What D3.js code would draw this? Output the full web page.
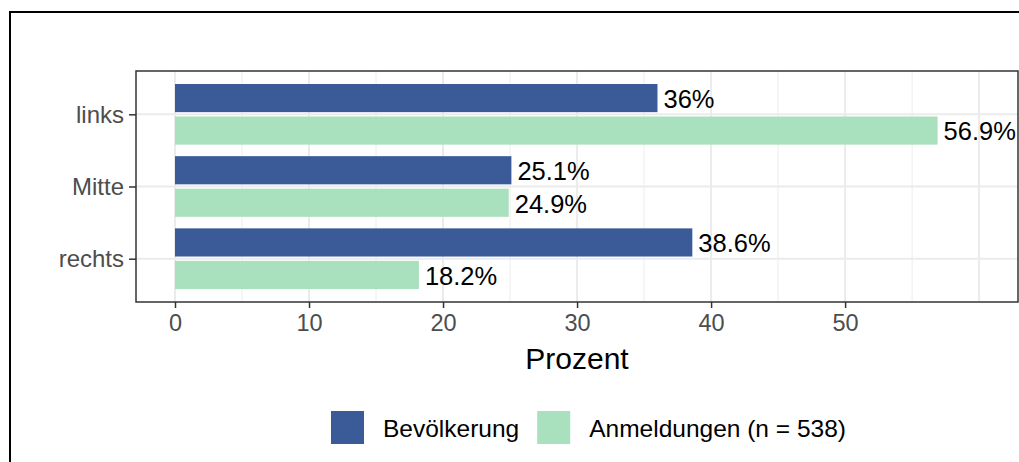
<!DOCTYPE html>
<html>
<head>
<meta charset="utf-8">
<script src="https://cdn.jsdelivr.net/npm/d3@7"></script>
<style>
  body { margin: 0; background: #fff; }
  svg { display: block; font-family: "Liberation Sans", Arial, sans-serif; }
</style>
</head>
<body>
<script>
// data
const categories = ["links", "Mitte", "rechts"];
const seriesNames = ["Bevölkerung", "Anmeldungen (n = 538)"];
const bevoelkerung = [36, 25.1, 38.6];
const anmeldungen = [56.9, 24.9, 18.2];
const xTicks = [0, 10, 20, 30, 40, 50];
const xGrid = [0, 10, 20, 30, 40, 50, 60];
const xMinorGrid = [5, 15, 25, 35, 45, 55];
const colors = ["#3A5B98", "#A9E0BD"];

let margin, width, height, svg, chart, x, y;

setupCanvasSize();
appendSvg("body");
setupXScale();
setupYScale();
appendGrid();
appendBars();
appendLabels();
appendPanelBorder();
appendXAxis();
appendYAxis();
appendLegend();

function setupCanvasSize() {
  margin = {top: 71, left: 136, bottom: 160, right: 1};
  width = 1019 - margin.left - margin.right;
  height = 462 - margin.top - margin.bottom;
}

function appendSvg(domElement) {
  svg = d3.select(domElement).append("svg")
    .attr("width", 1019)
    .attr("height", 462);
  // outer frame of the figure
  svg.append("rect")
    .attr("x", 10).attr("y", 12)
    .attr("width", 1030).attr("height", 470)
    .attr("fill", "none")
    .attr("stroke", "#000")
    .attr("stroke-width", 2);
  chart = svg.append("g")
    .attr("transform", `translate(${margin.left}, ${margin.top})`);
}

function setupXScale() {
  x = d3.scaleLinear()
    .domain([-2.91, 62.9])
    .range([0, width]);
}

function setupYScale() {
  y = d3.scalePoint()
    .domain(categories)
    .range([0, height])
    .padding(0.6);
}

function appendGrid() {
  chart.selectAll(".minor")
    .data(xMinorGrid)
    .enter().append("line")
    .attr("x1", d => x(d)).attr("x2", d => x(d))
    .attr("y1", 0).attr("y2", height)
    .attr("stroke", "#F0F0F0").attr("stroke-width", 1.2);
  chart.selectAll(".major")
    .data(xGrid)
    .enter().append("line")
    .attr("x1", d => x(d)).attr("x2", d => x(d))
    .attr("y1", 0).attr("y2", height)
    .attr("stroke", "#EBEBEB").attr("stroke-width", 2);
  chart.selectAll(".hgrid")
    .data(categories)
    .enter().append("line")
    .attr("x1", 0).attr("x2", width)
    .attr("y1", d => y(d)).attr("y2", d => y(d))
    .attr("stroke", "#EBEBEB").attr("stroke-width", 2);
}

function barRows() {
  const step = y.step();
  const rows = [];
  categories.forEach((c, i) => {
    rows.push({cat: c, value: bevoelkerung[i], s: 0, yc: y(c) - 0.225 * step});
    rows.push({cat: c, value: anmeldungen[i], s: 1, yc: y(c) + 0.225 * step});
  });
  return rows;
}

function appendBars() {
  const h = y.step() * 0.39;
  chart.selectAll(".bar")
    .data(barRows())
    .enter().append("rect")
    .attr("x", x(0))
    .attr("y", d => d.yc - h / 2)
    .attr("width", d => x(d.value) - x(0))
    .attr("height", h)
    .attr("fill", d => colors[d.s]);
}

function appendLabels() {
  chart.selectAll(".lbl")
    .data(barRows())
    .enter().append("text")
    .attr("x", d => x(d.value) + 6)
    .attr("y", d => d.yc + 1)
    .attr("dy", "0.35em")
    .attr("font-size", 25.5)
    .attr("fill", "#000")
    .text(d => d.value + "%");
}

function appendPanelBorder() {
  chart.append("rect")
    .attr("x", 0).attr("y", 0)
    .attr("width", width).attr("height", height)
    .attr("fill", "none")
    .attr("stroke", "#333")
    .attr("stroke-width", 1.5);
}

function appendXAxis() {
  const ax = chart.append("g")
    .attr("transform", `translate(0, ${height})`)
    .call(d3.axisBottom(x).tickValues(xTicks).tickSize(6).tickPadding(6).tickFormat(d3.format("d")));
  ax.select(".domain").remove();
  ax.selectAll("line").attr("stroke", "#333").attr("stroke-width", 1.5);
  ax.selectAll("text").attr("font-size", 23.5).attr("fill", "#4D4D4D")
    .attr("font-family", "Liberation Sans, Arial, sans-serif");
  // axis title
  chart.append("text")
    .attr("x", width / 2)
    .attr("y", height + 67)
    .attr("text-anchor", "middle")
    .attr("font-size", 30)
    .attr("fill", "#000")
    .text("Prozent");
}

function appendYAxis() {
  const ay = chart.append("g")
    .call(d3.axisLeft(y).tickSize(7).tickPadding(5));
  ay.select(".domain").remove();
  ay.selectAll("line").attr("stroke", "#333").attr("stroke-width", 1.5);
  ay.selectAll("text").attr("font-size", 24).attr("fill", "#4D4D4D")
    .attr("font-family", "Liberation Sans, Arial, sans-serif");
}

function appendLegend() {
  const legend = svg.append("g").attr("transform", "translate(331, 411)");
  let pos = 0;
  seriesNames.forEach((name, i) => {
    const item = legend.append("g").attr("transform", `translate(${pos}, 0)`);
    item.append("rect")
      .attr("width", 33).attr("height", 33)
      .attr("fill", colors[i]);
    const t = item.append("text")
      .attr("x", 52)
      .attr("y", 26)
      .attr("font-size", 24.5)
      .attr("fill", "#000")
      .text(name);
    pos += 52 + t.node().getComputedTextLength() + 18;
  });
}
</script>
</body>
</html>
